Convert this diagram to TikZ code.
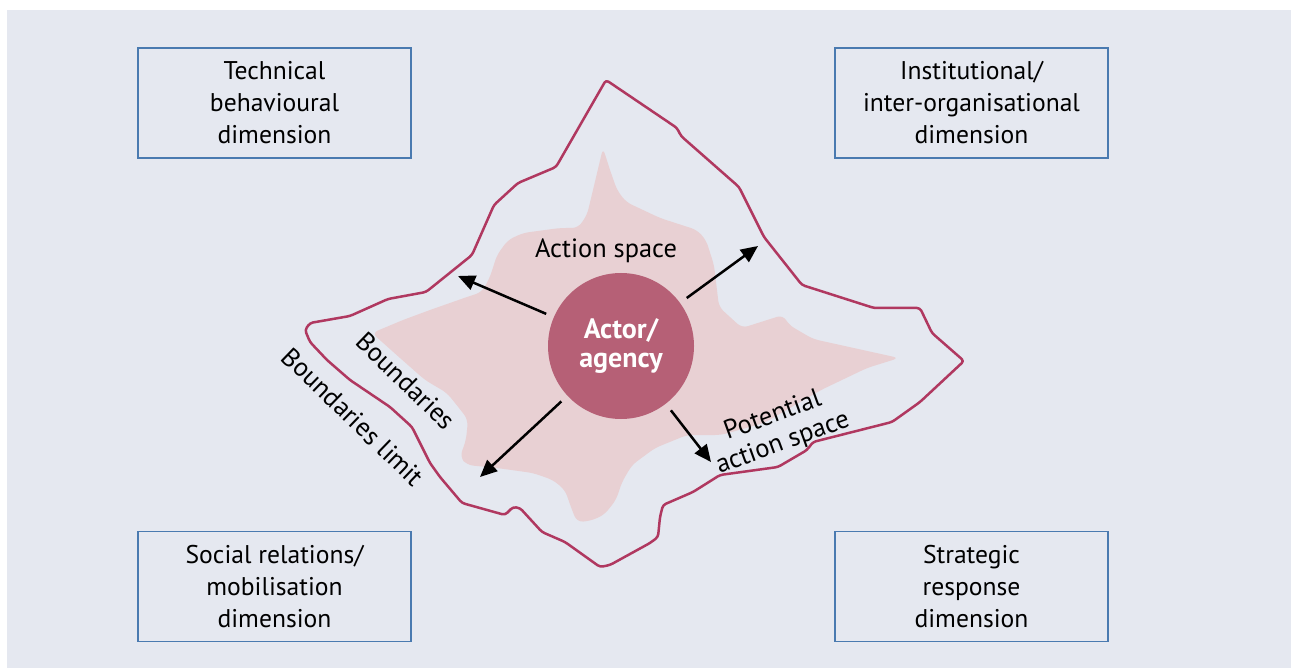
\documentclass[tikz,border=0pt]{standalone}
\usepackage{fontspec}
\setmainfont{PT Sans}
\usetikzlibrary{arrows.meta}
\definecolor{bgcol}{RGB}{229, 232, 240}
\definecolor{boxcol}{RGB}{74, 122, 176}
\definecolor{limitcol}{RGB}{176, 56, 96}
\definecolor{spacecol}{RGB}{232, 208, 211}
\definecolor{actorcol}{RGB}{182, 96, 118}
\tikzset{
  dimbox/.style={draw=boxcol, line width=0.75pt, minimum width=136.5pt, minimum height=55pt,
                 align=center, font=\fontsize{12.8}{16}\selectfont},
  push/.style={-{Triangle[length=8.5pt, width=7.5pt]}, line width=1.25pt, shorten <=4pt},
  tag/.style={font=\fontsize{13.2}{14.5}\selectfont, align=center},
}

\begin{document}
\begin{tikzpicture}[x=0.5pt, y=-0.5pt]
  \useasboundingbox (0,0) rectangle (1291,668);
  \fill[bgcol] (7,10) rectangle (1291,668);

  % outer limit of what the actor could reach
  \draw[limitcol, line width=1.25pt, line join=round, rounded corners=1.5pt]
    (606,80) -- (677,128) -- (681,136) -- (739,187) -- (764,237) -- (802,285)
    -- (874,308) -- (920,308) -- (932,333) -- (964,361) -- (920,402) -- (892,422)
    -- (813,442) -- (807,450) -- (778,467) -- (720,475) -- (693,492) -- (663,505)
    -- (660,517) -- (658,537) -- (650,543) -- (610,565) -- (600,567) -- (565,542)
    -- (542,532) -- (520,508) -- (513,507) -- (505,515) -- (462,503) -- (440,477)
    -- (430,463) -- (412,427) -- (390,407) -- (350,380) -- (327,360) -- (310,342)
    -- (305,330) -- (310,323) -- (350,316) -- (388,299) -- (426,292) -- (472,255)
    -- (494,205) -- (518,183) -- (556,167) -- cycle;

  % current action space
  \fill[spacecol, rounded corners=3pt]
    (603,148) -- (610,170) -- (617,190) -- (626,202) -- (660,218) -- (697,230)
    -- (706,240) -- (714,265) -- (719,307) -- (742,328) -- (783,315) -- (789,325)
    -- (813,339) -- (899,358) -- (867,368) -- (821,390) -- (764,423) -- (721,435)
    -- (687,435) -- (655,448) -- (632,465) -- (622,482) -- (616,500) -- (604,515)
    -- (590,521) -- (577,522) -- (572,510) -- (565,490) -- (553,480) -- (533,473)
    -- (497,468) -- (467,465) -- (460,457) -- (466,440) -- (468,420) -- (463,413)
    -- (447,393) -- (425,380) -- (400,358) -- (372,333) -- (403,320) -- (430,310)
    -- (467,297) -- (482,292) -- (490,277) -- (497,255) -- (508,240) -- (523,233)
    -- (560,228) -- (578,228) -- (587,215) -- (593,190) -- cycle;

  \node[dimbox] (tech)  at (274.5,103)   {Technical\\behavioural\\dimension};
  \node[dimbox] (inst)  at (971.5,103)   {Institutional/\\inter-organisational\\dimension};
  \node[dimbox] (soc)   at (274.5,586.5) {Social relations/\\mobilisation\\dimension};
  \node[dimbox] (strat) at (971.5,586.5) {Strategic\\response\\dimension};

  \node[circle, fill=actorcol, minimum size=73pt, inner sep=0pt, text=white, align=center,
        font=\fontsize{14}{14.5}\selectfont\bfseries] (actor) at (621,346) {Actor/\\agency};

  \node[tag] (space) at (606,251) {Action space};
  \node[tag, rotate=-44] (bound) at (406,381) {Boundaries};
  \node[tag, rotate=-44] (limit) at (353,417) {Boundaries limit};
  \node[tag, rotate=20]  (pot)   at (778,430) {Potential\\action space};

  \coordinate (nwtip) at (458,276);
  \coordinate (netip) at (758,246);
  \coordinate (swtip) at (480,477);
  \coordinate (setip) at (711,462);

  \draw[push] (actor) -- (nwtip);
  \draw[push] (actor) -- (netip);
  \draw[push] (actor) -- (swtip);
  \draw[push] (actor) -- (setip);
\end{tikzpicture}
\end{document}
